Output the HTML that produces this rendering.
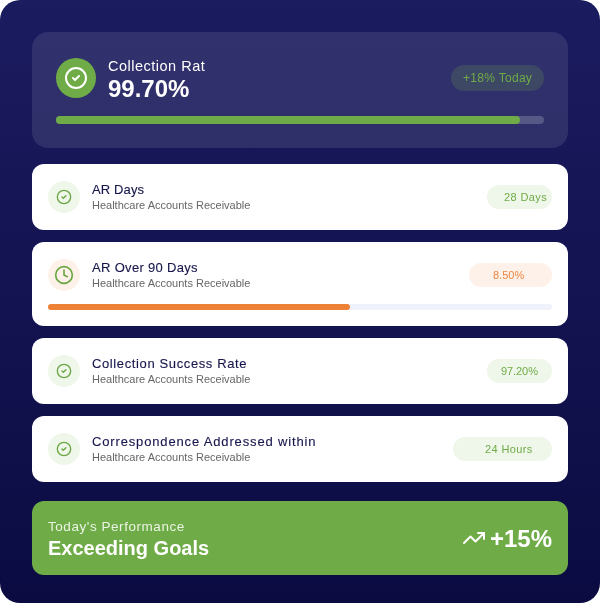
<!DOCTYPE html>
<html lang="en">
<head>
<meta charset="utf-8">
<title>Performance Dashboard</title>
<style>
*{box-sizing:border-box;margin:0;padding:0}
html,body{width:600px;height:603px;background:#fff;overflow:hidden}
body{font-family:"Liberation Sans",sans-serif}
.wrap{position:absolute;left:0;top:0;width:600px;height:603px;border-radius:20px;background:linear-gradient(180deg,#1b1b60 0%,#0b0b42 100%);overflow:hidden}
.abs{position:absolute}
.t,.s,.bt,.htitle,.hval,.hbtx,.tx{will-change:transform}
.hero{left:32px;top:32px;width:536px;height:116px;border-radius:16px;background:rgba(255,255,255,.1)}
.hicon{left:56px;top:58px;width:40px;height:40px;border-radius:50%;background:#6fac47}
.htitle{left:108px;top:55px;font-size:14.5px;line-height:22px;color:#fff;letter-spacing:.5px;white-space:nowrap}
.hval{left:108px;top:75px;font-size:24px;line-height:28px;font-weight:700;color:#fff;white-space:nowrap}
.hbadge{left:451px;top:65px;width:93px;height:26px;border-radius:13px;background:rgba(111,172,71,.2)}
.hbtx{left:463px;top:69px;color:#6fac47;font-size:12px;line-height:18px;white-space:nowrap;letter-spacing:.3px}
.hbar{left:56px;top:116px;width:488px;height:8px;border-radius:4px;background:rgba(255,255,255,.2)}
.hfill{left:56px;top:116px;width:464px;height:8px;border-radius:4px;background:#6fac47}
.card{left:32px;width:536px;height:66px;border-radius:12px;background:#fff}
.icon{left:48px;width:32px;height:32px;border-radius:50%;background:#eff6ea}
.t{left:92px;font-size:13px;line-height:20px;color:#16164c;white-space:nowrap;-webkit-text-stroke:.12px #16164c}
.s{left:92px;font-size:11px;line-height:16px;color:#666;white-space:nowrap}
.b{height:24px;border-radius:12px;background:#eff6ea;right:48px}
.bt{font-size:11px;line-height:16px;color:#6fac47;white-space:nowrap}
.foot{left:32px;top:501px;width:536px;height:74px;border-radius:12px;background:#6fac47}
</style>
</head>
<body>
<div class="wrap">
  <div class="abs hero"></div>
  <div class="abs hicon"></div>
  <svg class="abs" style="left:64px;top:66px" width="24" height="24" viewBox="0 0 24 24" fill="none" stroke="#fff" stroke-width="2" stroke-linecap="round" stroke-linejoin="round"><circle cx="12" cy="12" r="10"/><path d="m9 12 2 2 4-4"/></svg>
  <div class="abs htitle">Collection Rat</div>
  <div class="abs hval">99.70%</div>
  <div class="abs hbadge"></div>
  <div class="abs hbtx">+18% Today</div>
  <div class="abs hbar"></div>
  <div class="abs hfill"></div>

  <div class="abs card" style="top:164px"></div>
  <div class="abs icon" style="top:181px"></div>
  <svg class="abs" style="left:56px;top:189px" width="16" height="16" viewBox="0 0 24 24" fill="none" stroke="#6aa742" stroke-width="2" stroke-linecap="round" stroke-linejoin="round"><circle cx="12" cy="12" r="10"/><path d="m9 12 2 2 4-4"/></svg>
  <div class="abs t" style="top:180px;letter-spacing:.13px">AR Days</div>
  <div class="abs s" style="top:197px">Healthcare Accounts Receivable</div>
  <div class="abs b" style="left:486.5px;top:185px;width:65.5px"></div>
  <div class="abs bt" style="left:503.5px;top:189px;letter-spacing:.4px">28 Days</div>

  <div class="abs card" style="top:242px;height:84px"></div>
  <div class="abs icon" style="top:259px;background:#fdf1e9"></div>
  <svg class="abs" style="left:54px;top:265px" width="20" height="20" viewBox="0 0 24 24" fill="none" stroke="#6aa742" stroke-width="2" stroke-linecap="round" stroke-linejoin="round"><circle cx="12" cy="12" r="10"/><polyline points="12 6 12 12 16 14"/></svg>
  <div class="abs t" style="top:258px;letter-spacing:.32px">AR Over 90 Days</div>
  <div class="abs s" style="top:275px">Healthcare Accounts Receivable</div>
  <div class="abs b" style="left:468.5px;top:263px;width:83.5px;background:#fdf1e9"></div>
  <div class="abs bt" style="left:492.5px;top:267px;color:#ed8743">8.50%</div>
  <div class="abs" style="left:48px;top:304px;width:504px;height:6px;border-radius:3px;background:#eff2fa"></div>
  <div class="abs" style="left:48px;top:304px;width:302px;height:6px;border-radius:3px;background:#ed8136"></div>

  <div class="abs card" style="top:338px"></div>
  <div class="abs icon" style="top:355px"></div>
  <svg class="abs" style="left:56px;top:363px" width="16" height="16" viewBox="0 0 24 24" fill="none" stroke="#6aa742" stroke-width="2" stroke-linecap="round" stroke-linejoin="round"><circle cx="12" cy="12" r="10"/><path d="m9 12 2 2 4-4"/></svg>
  <div class="abs t" style="top:354px;letter-spacing:.62px">Collection Success Rate</div>
  <div class="abs s" style="top:371px">Healthcare Accounts Receivable</div>
  <div class="abs b" style="left:486.5px;top:359px;width:65.5px"></div>
  <div class="abs bt" style="left:500.5px;top:363px;letter-spacing:-.08px">97.20%</div>

  <div class="abs card" style="top:416px"></div>
  <div class="abs icon" style="top:433px"></div>
  <svg class="abs" style="left:56px;top:441px" width="16" height="16" viewBox="0 0 24 24" fill="none" stroke="#6aa742" stroke-width="2" stroke-linecap="round" stroke-linejoin="round"><circle cx="12" cy="12" r="10"/><path d="m9 12 2 2 4-4"/></svg>
  <div class="abs t" style="top:432px;letter-spacing:.85px">Correspondence Addressed within</div>
  <div class="abs s" style="top:449px">Healthcare Accounts Receivable</div>
  <div class="abs b" style="left:453px;top:437px;width:99px"></div>
  <div class="abs bt" style="left:485px;top:441px;letter-spacing:.37px">24 Hours</div>

  <div class="abs foot"></div>
  <div class="abs tx" style="left:48px;top:517px;font-size:13.5px;line-height:20px;color:#eaf3e4;white-space:nowrap;letter-spacing:.55px">Today's Performance</div>
  <div class="abs tx" style="left:48px;top:535px;font-size:20px;line-height:26px;font-weight:700;color:#fff;white-space:nowrap">Exceeding Goals</div>
  <svg class="abs" style="left:462px;top:526px" width="24" height="24" viewBox="0 0 24 24" fill="none" stroke="#fff" stroke-width="2" stroke-linecap="round" stroke-linejoin="round"><polyline points="22 7 13.5 15.5 8.5 10.5 2 17"/><polyline points="16 7 22 7 22 13"/></svg>
  <div class="abs tx" style="left:490px;top:525px;font-size:24px;line-height:28px;font-weight:700;color:#fff;white-space:nowrap">+15%</div>
</div>
</body>
</html>
